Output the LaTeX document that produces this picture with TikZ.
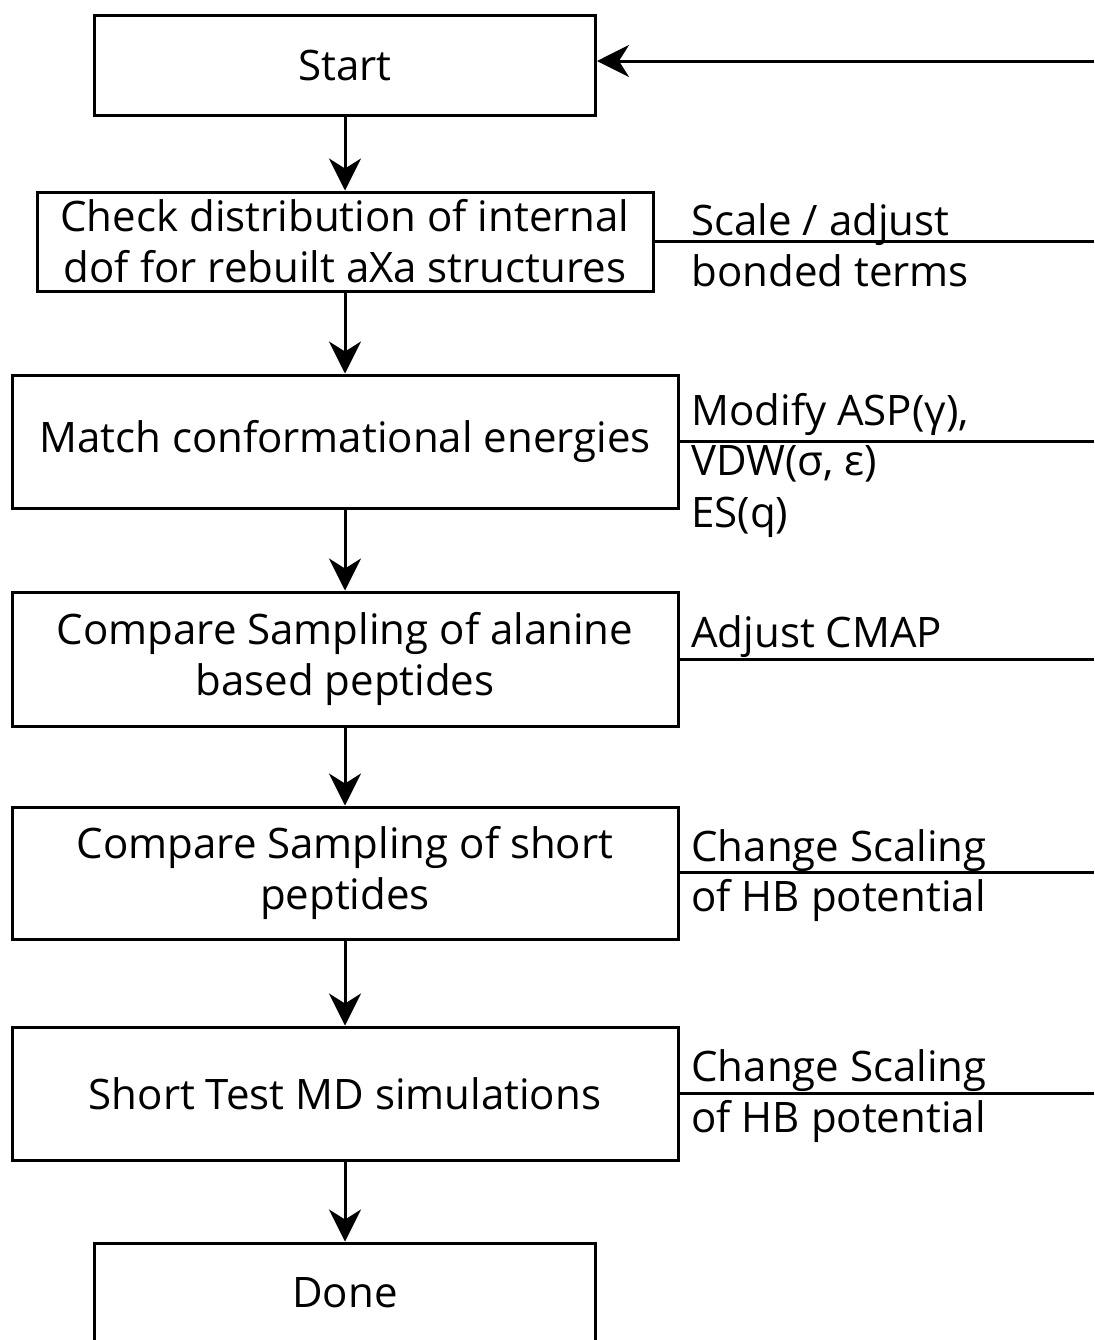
\documentclass[tikz,border=0pt]{standalone}
\usepackage{fontspec}
\setmainfont{Open Sans}
\usetikzlibrary{arrows.meta}

\begin{document}
\begin{tikzpicture}[
    x=0.5pt, y=-0.5pt,
    box/.style={rectangle, draw, line width=1.5pt, inner sep=0pt, align=center,
      font=\fontsize{21}{25.5}\selectfont},
    flow/.style={-{Stealth[length=16pt, width=16pt, inset=5pt]}, line width=1.5pt},
    link/.style={line width=1.5pt},
    note/.style={anchor=base west, inner sep=0pt, font=\fontsize{21}{25.5}\selectfont}
  ]
  \useasboundingbox (0,0) rectangle (1094,1340);

  % Main steps
  \node[box, minimum width=250.5pt, minimum height=50pt] (start) at (345,65) {Start};
  \node[box, minimum width=308pt, minimum height=49.5pt] (check) at (345,241.5)
    {Check distribution of internal\\dof for rebuilt aXa structures};
  \node[box, minimum width=333pt, minimum height=66.5pt] (match) at (345,441.5)
    {Match conformational energies};
  \node[box, minimum width=333pt, minimum height=67pt] (alanine) at (345,659)
    {Compare Sampling of alanine\\based peptides};
  \node[box, minimum width=333pt, minimum height=66pt] (short) at (345,873)
    {Compare Sampling of short\\peptides};
  \node[box, minimum width=333pt, minimum height=66.5pt] (md) at (345,1093.5)
    {Short Test MD simulations};
  \node[box, minimum width=250.5pt, minimum height=50pt] (done) at (345,1293) {Done};

  \draw[flow] (start) -- (check);
  \draw[flow] (check) -- (match);
  \draw[flow] (match) -- (alanine);
  \draw[flow] (alanine) -- (short);
  \draw[flow] (short) -- (md);
  \draw[flow] (md) -- (done);

  % Feedback lines leaving the picture on the right
  \coordinate (back) at (1094,61);
  \coordinate (rcheck) at (1094,241);
  \coordinate (rmatch) at (1094,441.5);
  \coordinate (ralanine) at (1094,659);
  \coordinate (rshort) at (1094,872);
  \coordinate (rmd) at (1094,1093.5);

  \draw[flow] (back) -- (back -| start.east);
  \draw[link] (check.east |- rcheck) -- (rcheck);
  \draw[link] (match.east) -- (rmatch);
  \draw[link] (alanine.east) -- (ralanine);
  \draw[link] (short.east |- rshort) -- (rshort);
  \draw[link] (md.east) -- (rmd);

  % Labels
  \node[note] (scale) at (691,235) {Scale / adjust};
  \node[note] (bonded) at (691,286) {bonded terms};
  \node[note] (asp) at (691,425) {Modify ASP(γ),};
  \node[note] (vdw) at (691,475) {VDW(σ, ε)};
  \node[note] (es) at (691,527) {ES(q)};
  \node[note] (cmap) at (691,647) {Adjust CMAP};
  \node[note] (hbA) at (691,861) {Change Scaling};
  \node[note] (hbB) at (691,911) {of HB potential};
  \node[note] (mdA) at (691,1081) {Change Scaling};
  \node[note] (mdB) at (691,1132) {of HB potential};
\end{tikzpicture}
\end{document}
